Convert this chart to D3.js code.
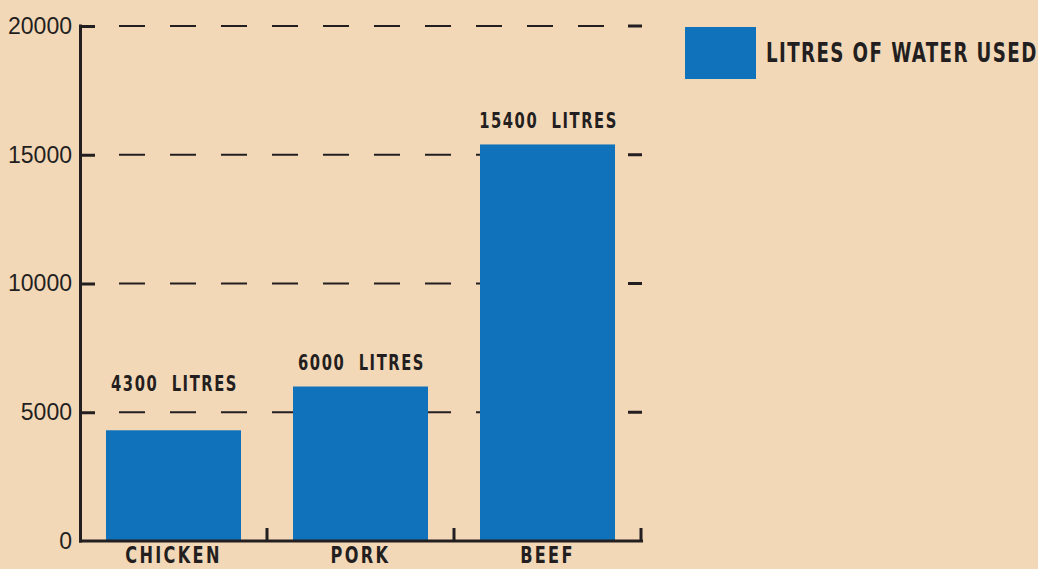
<!DOCTYPE html>
<html><head><meta charset="utf-8">
<script src="https://cdn.jsdelivr.net/npm/d3@7/dist/d3.min.js"></script>
<style>
html,body{margin:0;padding:0;background:#F3D8B8;}
svg{display:block;}
</style></head>
<body>
<svg id="c" width="1038" height="569"></svg>
<script>
const categories = ["CHICKEN", "PORK", "BEEF"];
const values = [4300, 6000, 15400];
const valueLabels = ["4300 LITRES", "6000 LITRES", "15400 LITRES"];
const yTicks = [0, 5000, 10000, 15000, 20000];
const legendLabel = "LITRES OF WATER USED";

const ink = "#231F20", blue = "#1072BA";
const condensed = "'DejaVu Sans Condensed','DejaVu Sans',sans-serif";
const SX = 0.78; // horizontal squeeze to mimic a condensed gothic face
const svg = d3.select("#c");
svg.append("rect").attr("width",1038).attr("height",569).attr("fill","#F3D8B8");

const y = d3.scaleLinear().domain([0,20000]).range([541,26]);
const x = d3.scaleBand().domain(categories).range([80,641]).paddingInner(0.278).paddingOuter(0.139);

function squeeze(sel){
  sel.each(function(){
    const t = d3.select(this);
    const ax = +t.attr("x");
    t.attr("transform",`translate(${ax},0) scale(${SX},1) translate(${-ax},0)`);
  });
}

// dashed gridlines
const gridVals = yTicks.filter(v=>v>0);
svg.append("g").selectAll("line").data(gridVals).join("line")
  .attr("x1",119).attr("x2",605).attr("y1",d=>y(d)).attr("y2",d=>y(d))
  .attr("stroke",ink).attr("stroke-width",2).attr("stroke-dasharray","26,25");
// right end ticks
svg.append("g").selectAll("line").data(gridVals).join("line")
  .attr("x1",628).attr("x2",642).attr("y1",d=>y(d)).attr("y2",d=>y(d))
  .attr("stroke",ink).attr("stroke-width",3);

// bars
svg.append("g").selectAll("rect").data(values).join("rect")
  .attr("x",(d,i)=>x(categories[i])).attr("width",x.bandwidth())
  .attr("y",d=>y(d)).attr("height",d=>y(0)-y(d)).attr("fill",blue);

// value labels (lifted above a gridline if they would sit on it)
function labelBaseline(v){
  let b = y(v) - 16;
  const capH = 16;
  gridVals.forEach(g=>{ const gy=y(g); if (gy>b-capH-2 && gy<b+4) b = gy - 21; });
  return b;
}
svg.append("g").selectAll("text").data(values).join("text")
  .attr("x",(d,i)=>x(categories[i])+x.bandwidth()/2+1)
  .attr("y",d=>labelBaseline(d))
  .attr("text-anchor","middle")
  .attr("font-family",condensed).attr("font-weight","bold").attr("font-size",21)
  .attr("letter-spacing","2px").attr("fill",ink)
  .text((d,i)=>valueLabels[i].replace(" ", "\u00a0\u00a0"))
  .call(squeeze);

// y axis
const yAxis = d3.axisLeft(y).tickValues(yTicks).tickSizeInner(-14).tickSizeOuter(0).tickPadding(9).tickFormat(d3.format("d"));
const gy = svg.append("g").attr("transform","translate(81,0)").call(yAxis);
gy.select(".domain").remove();
gy.selectAll(".tick line").attr("stroke",ink).attr("stroke-width",3).filter(d=>d===0).remove();
gy.selectAll(".tick text").attr("font-family","'Liberation Sans',Arial,sans-serif").attr("font-size",23).attr("fill",ink);

// axis lines
svg.append("line").attr("x1",80.5).attr("x2",80.5).attr("y1",y(20000)-1.5).attr("y2",y(0)+1.5).attr("stroke",ink).attr("stroke-width",3);
svg.append("line").attr("x1",79).attr("x2",643).attr("y1",y(0)).attr("y2",y(0)).attr("stroke",ink).attr("stroke-width",3);

// x ticks at band boundaries
const bounds = categories.map(c=>x(c)+x.bandwidth()+x.step()*x.paddingInner()/2);
svg.append("g").selectAll("line").data(bounds).join("line")
  .attr("x1",d=>d).attr("x2",d=>d).attr("y1",y(0)-13).attr("y2",y(0))
  .attr("stroke",ink).attr("stroke-width",3);

// category labels
svg.append("g").selectAll("text").data(categories).join("text")
  .attr("x",d=>x(d)+x.bandwidth()/2)
  .attr("y",563)
  .attr("text-anchor","middle")
  .attr("font-family",condensed).attr("font-weight","bold").attr("font-size",23)
  .attr("letter-spacing","3px").attr("fill",ink)
  .text(d=>d)
  .call(squeeze);

// legend
svg.append("rect").attr("x",685).attr("y",27).attr("width",71).attr("height",52).attr("fill",blue);
svg.append("text").attr("x",766).attr("y",62)
  .attr("font-family",condensed).attr("font-weight","bold").attr("font-size",26)
  .attr("letter-spacing","1.8px").attr("fill",ink).text(legendLabel)
  .call(squeeze);
</script>
</body></html>
